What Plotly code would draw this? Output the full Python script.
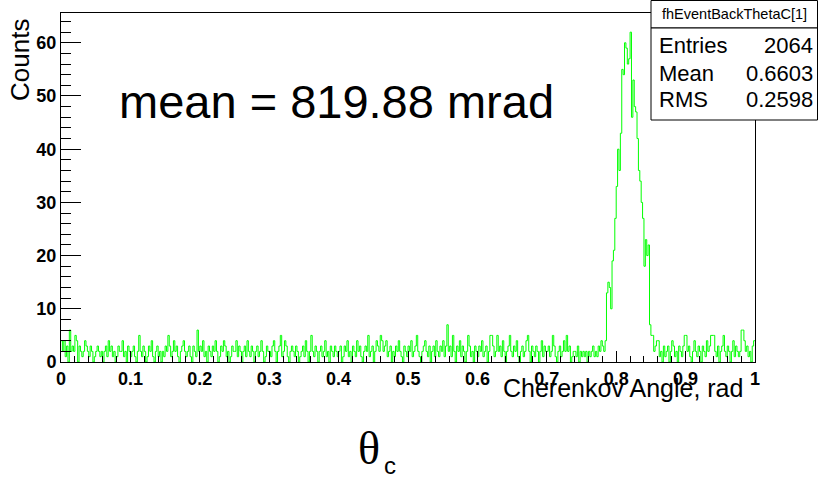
import numpy as np
import plotly.graph_objects as go

# Histogram binning: 500 bins over [0, 1] rad
bin_lo, bin_hi, n_bins = 0.0, 1.0, 500

# Bin contents, 50 bins (0.1 rad) per row
counts_0 = [4,2,4,1,3,0,6,2,3,2, 5,4,0,3,2,1,2,4,3,2, 1,3,2,0,1,2,3,2,1,2,
            0,2,3,1,4,2,3,1,2,0, 1,3,2,2,4,1,2,0,3,2]
counts_1 = [1,2,3,1,0,2,5,2,1,3, 2,0,1,3,2,4,1,0,2,3, 1,2,0,2,1,3,2,5,3,1,
            2,4,2,3,1,0,2,3,4,2, 1,2,3,1,0,3,2,1,6,2]
counts_2 = [3,2,4,1,2,0,3,2,1,3, 2,4,2,0,1,3,2,4,3,1, 2,0,1,3,2,2,4,1,3,2,
            0,2,3,1,4,2,1,3,2,0, 2,3,1,2,4,2,0,1,3,2]
counts_3 = [2,1,3,4,2,0,2,3,5,1, 2,4,3,1,0,2,3,2,1,3, 2,0,1,2,3,1,4,2,0,2,
            5,2,1,3,2,0,2,3,1,2, 4,1,2,0,3,2,1,3,2,1]
counts_4 = [2,3,0,1,3,2,4,1,2,0, 3,2,1,4,2,3,1,0,2,3, 2,5,1,2,3,0,2,4,3,2,
            5,4,2,3,4,1,2,3,0,2, 1,3,2,4,2,1,0,3,2,1]
counts_5 = [3,2,4,1,2,3,5,2,1,0, 2,3,4,2,1,3,0,2,3,1, 4,2,1,3,2,4,1,3,7,2,
            3,1,5,2,0,3,2,4,1,3, 2,0,2,5,3,1,2,0,3,2]
counts_6 = [1,3,2,4,1,2,3,0,2,5, 5,3,1,2,5,2,3,1,4,2, 0,2,3,5,2,1,3,2,4,1,
            0,2,3,1,2,4,5,2,0,3, 2,1,3,2,0,2,4,1,3,2]
counts_7 = [2,3,1,2,5,3,1,0,2,3, 1,2,4,2,5,2,3,0,1,2, 2,1,3,0,2,1,2,1,2,0,
            2,1,2,3,1,2,1,3,2,4, 3,2,4,13,15,14,10,19,21,27]
counts_8 = [33,40,36,43,55,54,60,59,56,57, 62,46,53,48,47,42,36,34,30,27,
            18,23,20,22,7,5,5,2,3,4, 4,1,2,0,3,1,2,3,0,2, 4,3,1,2,0,3,2,1,3,5]
counts_9 = [5,2,3,1,0,2,4,2,1,3, 2,0,3,2,1,4,2,3,5,5, 5,2,1,3,0,2,3,5,2,1,
            3,2,0,2,4,1,3,2,1,2, 6,6,4,2,3,1,2,0,3,4]

counts = (counts_0 + counts_1 + counts_2 + counts_3 + counts_4 +
          counts_5 + counts_6 + counts_7 + counts_8 + counts_9)

# Statistics box contents
hist_name = "fhEventBackThetaC[1]"
stat_names = ["Entries", "Mean", "RMS"]
stat_values = ["2064", "0.6603", "0.2598"]

x_tick_vals = [0, 0.1, 0.2, 0.3, 0.4, 0.5, 0.6, 0.7, 0.8, 0.9, 1.0]
x_tick_text = ["0", "0.1", "0.2", "0.3", "0.4", "0.5", "0.6", "0.7", "0.8", "0.9", "1"]
y_tick_vals = [0, 10, 20, 30, 40, 50, 60]
y_range = [0, 65.6]

W, H = 818, 479
ML, MR, MT, MB = 61, 63, 13, 117
PW, PH = W - ML - MR, H - MT - MB


def px(xp):
    return (xp - ML) / PW


def py(yp):
    return (H - MB - yp) / PH


edges = np.linspace(bin_lo, bin_hi, n_bins + 1)
x_step = list(edges)
y_step = list(counts[:n_bins]) + [counts[n_bins - 1]]

fig = go.Figure()
fig.add_trace(go.Scatter(
    x=x_step, y=y_step, mode="lines", line_shape="hv",
    line=dict(color="#00ff00", width=1), hoverinfo="skip", showlegend=False,
))

tick_font = dict(family="Liberation Sans", size=18, color="black", weight=700)

fig.update_xaxes(
    range=[bin_lo, bin_hi], tickvals=x_tick_vals, ticktext=x_tick_text,
    ticks="inside", ticklen=11, tickcolor="black", tickwidth=1,
    minor=dict(dtick=0.02, ticks="inside", ticklen=6, tickcolor="black", tickwidth=1),
    showline=True, linecolor="black", linewidth=1, mirror=True,
    showgrid=False, zeroline=False, tickfont=tick_font,
)
fig.update_yaxes(
    range=y_range, tickvals=y_tick_vals,
    ticks="inside", ticklen=20, tickcolor="black", tickwidth=1,
    minor=dict(dtick=2, ticks="inside", ticklen=10, tickcolor="black", tickwidth=1),
    showline=True, linecolor="black", linewidth=1, mirror=True,
    showgrid=False, zeroline=False, tickfont=tick_font,
)

annotations = [
    # axis titles
    dict(text="Counts", x=px(20), y=py(17), xanchor="center", yanchor="top",
         textangle=-90, font=dict(family="Liberation Sans", size=26, color="black")),
    dict(text="Cherenkov Angle, rad", x=px(745), y=py(388), xanchor="right", yanchor="middle",
         font=dict(family="Liberation Sans", size=25, color="black")),
    # mean label
    dict(text="mean = 819.88 mrad", x=px(117), y=py(101), xanchor="left", yanchor="middle",
         font=dict(family="Liberation Sans", size=47, color="black")),
    # theta_c
    dict(text="θ", x=px(369), y=py(448), xanchor="center", yanchor="middle",
         font=dict(family="Liberation Serif", size=46, color="black")),
    dict(text="c", x=px(390), y=py(465), xanchor="center", yanchor="middle",
         font=dict(family="Liberation Sans", size=24, color="black")),
    # stats box title
    dict(text=hist_name, x=px(734), y=py(14), xanchor="center", yanchor="middle",
         font=dict(family="Liberation Sans", size=14.5, color="black")),
]
stat_rows_y = [45, 73, 100]
for name, val, yy in zip(stat_names, stat_values, stat_rows_y):
    annotations.append(dict(text=name, x=px(657), y=py(yy), xanchor="left", yanchor="middle",
                            font=dict(family="Liberation Sans", size=22, color="black")))
    annotations.append(dict(text=val, x=px(815), y=py(yy), xanchor="right", yanchor="middle",
                            font=dict(family="Liberation Sans", size=22, color="black")))
for a in annotations:
    a.update(xref="paper", yref="paper", showarrow=False)

shapes = [
    dict(type="rect", xref="paper", yref="paper", x0=px(651), x1=px(817.5), y0=py(28), y1=py(0.5),
         line=dict(color="black", width=1), fillcolor="white", layer="above"),
    dict(type="rect", xref="paper", yref="paper", x0=px(651), x1=px(817.5), y0=py(120), y1=py(28),
         line=dict(color="black", width=1), fillcolor="white", layer="above"),
]

fig.update_layout(
    width=W, height=H, margin=dict(l=ML, r=MR, t=MT, b=MB),
    paper_bgcolor="white", plot_bgcolor="white",
    annotations=annotations, shapes=shapes,
)

fig.write_html("out.html")
